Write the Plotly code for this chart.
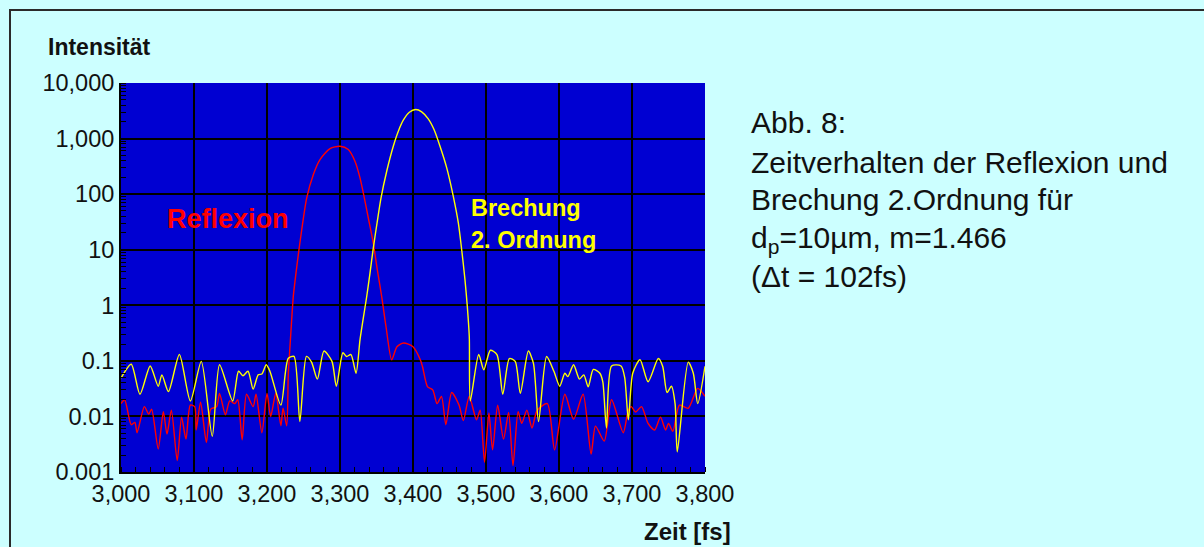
import plotly.graph_objects as go

# ---- data ----
brechung_t = [3000, 3014, 3026, 3040, 3051, 3056, 3065, 3080, 3095, 3110, 3125, 3135, 3153, 3161,
              3167, 3174, 3181, 3188, 3193, 3199, 3204, 3219, 3229, 3237, 3245, 3254, 3261, 3269,
              3278, 3289, 3295, 3304, 3309, 3315, 3322,
              3327.4, 3331.9, 3336.6, 3341.1, 3345.6, 3351.1, 3356.2, 3364.0, 3373.0, 3379.9,
              3386.7, 3395.0, 3403.7, 3411.9, 3420.9, 3428.8, 3437.0, 3446.2, 3455.2, 3462.1,
              3466.7, 3471.2, 3474.4, 3477.1, 3478.5,
              3490, 3497, 3506, 3515, 3523, 3532, 3540,
              3547, 3558, 3565, 3572, 3583, 3593, 3601, 3608, 3612, 3620, 3628, 3634, 3640, 3647,
              3656, 3660, 3665, 3672, 3685, 3690, 3695, 3701, 3711, 3722, 3736, 3742, 3748, 3754,
              3759, 3762, 3777, 3784, 3790, 3800]
brechung_i = [0.049, 0.087, 0.025, 0.081, 0.035, 0.056, 0.028, 0.13, 0.019, 0.098, 0.0044, 0.085,
              0.019, 0.065, 0.054, 0.065, 0.031, 0.056, 0.058, 0.085, 0.065, 0.016, 0.11, 0.12,
              0.0081, 0.12, 0.095, 0.047, 0.15, 0.098, 0.035, 0.14, 0.12, 0.13, 0.06,
              0.239, 0.587, 1.44, 3.80, 10.7, 32.4, 85.5, 258, 727, 1355,
              2138, 2979, 3334, 3028, 2265, 1453, 727, 297, 91.2, 30.3,
              10, 2.88, 0.95, 0.274, 0.019,
              0.13, 0.069, 0.155,
              0.13, 0.025, 0.11, 0.098, 0.026, 0.15, 0.09, 0.0081, 0.12, 0.065, 0.035, 0.06, 0.052,
              0.085, 0.047, 0.056, 0.034, 0.07, 0.06, 0.042, 0.0062, 0.081, 0.081, 0.05, 0.0087,
              0.06, 0.105, 0.042, 0.11, 0.08, 0.027, 0.035, 0.017, 0.0023, 0.095, 0.06, 0.017, 0.08]

reflexion_t = [3000, 3005, 3014, 3019, 3022, 3032, 3038, 3042, 3051, 3058, 3063, 3069, 3077, 3083,
               3089, 3095, 3101, 3103, 3109, 3117, 3123, 3131, 3135, 3143, 3149, 3156, 3160, 3166,
               3172, 3181, 3185, 3193, 3200, 3205, 3212, 3219, 3222, 3227,
               3229.2, 3231.5, 3233.8, 3236.0, 3239.7, 3243.8, 3248.9, 3254.4, 3263.4, 3272.6,
               3286.3, 3300.0, 3311.4, 3320.5, 3327.4, 3332.9, 3338.8, 3345.6, 3351.1, 3357.1,
               3363.0, 3370.8,
               3378, 3387, 3400, 3410, 3413,
               3420, 3427, 3433, 3439, 3445, 3453, 3463, 3469, 3477, 3487, 3492, 3498, 3504, 3509,
               3516, 3524, 3531, 3537, 3544, 3549, 3556, 3563, 3570, 3584, 3594, 3608, 3620, 3633,
               3644, 3650, 3662, 3672, 3688, 3695, 3699, 3705, 3713, 3722, 3731, 3739, 3746, 3750,
               3756, 3765, 3777, 3790, 3800]
reflexion_i = [0.017, 0.02, 0.0071, 0.0078, 0.0051, 0.015, 0.011, 0.0135, 0.0026, 0.0122, 0.0048,
               0.013, 0.0016, 0.0097, 0.0039, 0.016, 0.015, 0.0057, 0.018, 0.0034, 0.0135, 0.015,
               0.026, 0.0107, 0.019, 0.017, 0.02, 0.0038, 0.025, 0.015, 0.025, 0.0051, 0.026, 0.01,
               0.026, 0.0068, 0.014, 0.0068,
               0.060, 0.181, 0.548, 1.44, 3.80, 10, 30.3, 85.5, 224, 419,
               661, 727, 634, 390, 196, 91.2, 37.2, 13.2, 4.36, 1.44,
               0.415, 0.104,
               0.18, 0.21, 0.18, 0.105, 0.079, 0.034, 0.030, 0.017, 0.023, 0.0071,
               0.027, 0.016, 0.0084, 0.023, 0.0087, 0.013, 0.0015, 0.0115, 0.0025, 0.016, 0.0039,
               0.0118, 0.0013, 0.0122, 0.0075, 0.013, 0.0062, 0.0128, 0.017, 0.0025, 0.025, 0.0089,
               0.025, 0.0021, 0.0067, 0.0036, 0.02, 0.0051, 0.013, 0.015, 0.012, 0.015, 0.0075,
               0.0057, 0.0097, 0.0057, 0.0075, 0.0054, 0.016, 0.014, 0.032, 0.023]

x_ticks = [3000, 3100, 3200, 3300, 3400, 3500, 3600, 3700, 3800]
x_labels = ["3,000", "3,100", "3,200", "3,300", "3,400", "3,500", "3,600", "3,700", "3,800"]
y_ticks = [0.001, 0.01, 0.1, 1, 10, 100, 1000, 10000]
y_labels = ["0.001", "0.01", "0.1", "1", "10", "100", "1,000", "10,000"]

# ---- layout geometry (pixels) ----
W, H = 1204, 547
L, R, T, B = 121, 705, 83, 472
PW, PH = R - L, B - T


def px(x):
    return (x - L) / PW


def py(y):
    return (B - y) / PH


FONT = "Liberation Sans, Arial, sans-serif"

fig = go.Figure()
fig.add_trace(go.Scatter(x=reflexion_t, y=reflexion_i, mode="lines",
                         line=dict(color="#FF0000", width=1.4, shape="spline", smoothing=0.7),
                         name="Reflexion", showlegend=False))
fig.add_trace(go.Scatter(x=brechung_t, y=brechung_i, mode="lines",
                         line=dict(color="#FFFF00", width=1.4, shape="spline", smoothing=0.7),
                         name="Brechung 2. Ordnung", showlegend=False))

fig.update_layout(
    width=W, height=H,
    margin=dict(l=L, r=W - R, t=T, b=H - B, pad=0),
    paper_bgcolor="#CCFFFF",
    plot_bgcolor="#0000D2",
    font=dict(family=FONT, color="black"),
    showlegend=False,
)
fig.update_xaxes(
    range=[3000, 3800], tickvals=x_ticks, ticktext=x_labels,
    tickfont=dict(size=23.5, family=FONT, color="#111"),
    showgrid=True, gridcolor="black", gridwidth=2,
    showline=True, linecolor="black", linewidth=2,
    ticks="", zeroline=False,
    minor=dict(dtick=20, ticks="inside", ticklen=5, tickcolor="black", tickwidth=1, showgrid=False),
)
fig.update_yaxes(
    type="log", range=[-3, 4], tickvals=y_ticks, ticktext=y_labels,
    tickfont=dict(size=23.5, family=FONT, color="#111"),
    showgrid=True, gridcolor="black", gridwidth=2,
    showline=True, linecolor="black", linewidth=2,
    ticks="", zeroline=False,
    minor=dict(dtick="D1", ticks="inside", ticklen=5, tickcolor="black", tickwidth=1, showgrid=False),
)

anns = [
    dict(text="<b>Intensität</b>", x=px(46), y=py(47), size=23, color="#111"),
    dict(text="<b>Zeit [fs]</b>", x=px(642), y=py(531), size=24, color="#111"),
    dict(text="<b>Reflexion</b>", x=px(165), y=py(219), size=27, color="#FF0000"),
    dict(text="<b>Brechung</b>", x=px(469), y=py(208), size=23.5, color="#FFFF00"),
    dict(text="<b>2. Ordnung</b>", x=px(469), y=py(240), size=23.5, color="#FFFF00"),
    dict(text="Abb. 8:", x=px(749), y=py(122), size=30, color="#111"),
    dict(text="Zeitverhalten der Reflexion und", x=px(749), y=py(162), size=30, color="#111"),
    dict(text="Brechung 2.Ordnung für", x=px(749), y=py(199), size=30, color="#111"),
    dict(text="d<sub>p</sub>=10µm, m=1.466", x=px(749), y=py(239), size=30, color="#111"),
    dict(text="(Δt = 102fs)", x=px(749), y=py(276), size=30, color="#111"),
]
for a in anns:
    fig.add_annotation(text=a["text"], x=a["x"], y=a["y"], xref="paper", yref="paper",
                       xanchor="left", yanchor="middle", showarrow=False,
                       font=dict(size=a["size"], color=a["color"], family=FONT))

# outer frame (left and top edges visible)
fig.add_shape(type="rect", xref="paper", yref="paper",
              x0=px(10), x1=px(1220), y0=py(560), y1=py(10),
              line=dict(color="#2a2a2a", width=2), fillcolor="rgba(0,0,0,0)", layer="below")

fig.write_html("out.html")
